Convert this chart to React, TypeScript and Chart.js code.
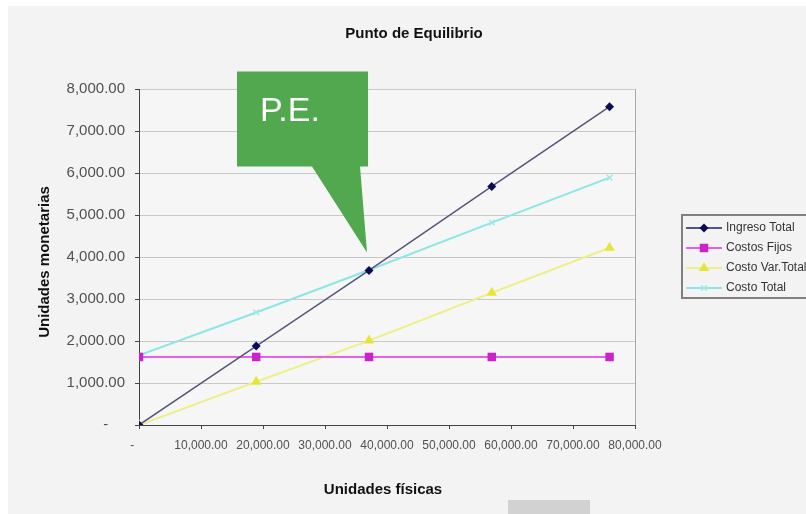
import React, { useEffect, useRef } from "react";
import { Chart, registerables } from "chart.js";

Chart.register(...registerables);

const chartTitle = "Punto de Equilibrio";
const xTitle = "Unidades físicas";
const yTitle = "Unidades monetarias";
const calloutText = "P.E.";

const units = [0, 18900, 37100, 56900, 75900];
const ingresoTotal = [0, 1880, 3680, 5680, 7580];
const costosFijos = [1620, 1620, 1620, 1620, 1620];
const costoVarTotal = [0, 1030, 2010, 3150, 4220];
const costoTotal = [1660, 2680, 3690, 4820, 5890];

const seriesNames = ["Ingreso Total", "Costos Fijos", "Costo Var.Total", "Costo Total"];
const peUnits = 37100;
const peValue = 3680;

const FONT = "'Liberation Sans', Arial, sans-serif";

const fmt = (v: number) =>
  v.toLocaleString("en-US", { minimumFractionDigits: 2, maximumFractionDigits: 2 });

const lineColors = ["#55557f", "#e066e0", "#efef8a", "#8ce6e6"];
const pointColors = ["#0c0c55", "#cc22cc", "#e6e63a", "#9fe9e9"];
const pointStyles = ["rectRot", "rect", "triangle", "crossRot"];
const pointRadii = [4.5, 6, 6, 4];

function drawMarker(ctx: CanvasRenderingContext2D, style: string, x: number, y: number, r: number, color: string) {
  ctx.save();
  ctx.fillStyle = color;
  ctx.strokeStyle = color;
  ctx.lineWidth = 1.5;
  ctx.beginPath();
  if (style === "rectRot") {
    ctx.moveTo(x, y - r);
    ctx.lineTo(x + r, y);
    ctx.lineTo(x, y + r);
    ctx.lineTo(x - r, y);
    ctx.closePath();
    ctx.fill();
  } else if (style === "rect") {
    const s = r * Math.SQRT1_2;
    ctx.rect(x - s, y - s, 2 * s, 2 * s);
    ctx.fill();
  } else if (style === "triangle") {
    ctx.moveTo(x, y - r);
    ctx.lineTo(x + r * 0.866, y + r * 0.5);
    ctx.lineTo(x - r * 0.866, y + r * 0.5);
    ctx.closePath();
    ctx.fill();
  } else {
    const s = r * Math.SQRT1_2;
    ctx.moveTo(x - s, y - s);
    ctx.lineTo(x + s, y + s);
    ctx.moveTo(x + s, y - s);
    ctx.lineTo(x - s, y + s);
    ctx.stroke();
  }
  ctx.restore();
}

const decorPlugin = {
  id: "decor",
  beforeDraw(chart: any) {
    const { ctx, chartArea } = chart;
    ctx.save();
    ctx.fillStyle = "#ffffff";
    ctx.fillRect(0, 0, chart.width, chart.height);
    ctx.fillStyle = "#f3f3f3";
    ctx.fillRect(8, 6, chart.width - 8, chart.height - 6);
    ctx.fillStyle = "#f6f6f6";
    ctx.fillRect(chartArea.left, chartArea.top, chartArea.right - chartArea.left, chartArea.bottom - chartArea.top);
    ctx.restore();
  },
  afterDraw(chart: any) {
    const { ctx, chartArea, scales } = chart;
    ctx.save();
    // right border of plot
    ctx.strokeStyle = "#a8a8a8";
    ctx.lineWidth = 1;
    ctx.beginPath();
    ctx.moveTo(chartArea.right + 0.5, chartArea.top);
    ctx.lineTo(chartArea.right + 0.5, chartArea.bottom);
    ctx.stroke();

    // titles
    ctx.fillStyle = "#111";
    ctx.font = `bold 15px ${FONT}`;
    ctx.textAlign = "center";
    ctx.textBaseline = "middle";
    ctx.fillText(chartTitle, 414, 34);
    ctx.fillText(xTitle, 383, 490);
    ctx.save();
    ctx.translate(45, 262);
    ctx.rotate(-Math.PI / 2);
    ctx.fillText(yTitle, 0, 0);
    ctx.restore();

    // legend
    ctx.strokeStyle = "#808080";
    ctx.lineWidth = 2;
    ctx.strokeRect(682, 215, 140, 83);
    const rows = [228, 248, 268, 288];
    ctx.font = `12px ${FONT}`;
    ctx.textAlign = "left";
    seriesNames.forEach((name, i) => {
      const y = rows[i];
      ctx.strokeStyle = lineColors[i];
      ctx.lineWidth = 2;
      ctx.beginPath();
      ctx.moveTo(686, y);
      ctx.lineTo(722, y);
      ctx.stroke();
      drawMarker(ctx, pointStyles[i], 704, y, pointRadii[i], pointColors[i]);
      ctx.fillStyle = "#333";
      ctx.fillText(name, 726, y);
    });

    // P.E. callout
    const px = scales.x.getPixelForValue(peUnits);
    const py = scales.y.getPixelForValue(peValue);
    const left = px - 132;
    const right = px - 1;
    const top = py - 199;
    const bottom = py - 104;
    ctx.fillStyle = "#52a84e";
    ctx.beginPath();
    ctx.moveTo(left, top);
    ctx.lineTo(right, top);
    ctx.lineTo(right, bottom);
    ctx.lineTo(px - 9, bottom);
    ctx.lineTo(px - 2, py - 18);
    ctx.lineTo(px - 57, bottom);
    ctx.lineTo(left, bottom);
    ctx.closePath();
    ctx.fill();
    ctx.fillStyle = "#ffffff";
    ctx.font = `34px ${FONT}`;
    ctx.textAlign = "left";
    ctx.textBaseline = "alphabetic";
    ctx.fillText(calloutText, left + 23, top + 50);

    // gray patch at bottom
    ctx.fillStyle = "#d2d2d2";
    ctx.fillRect(508, 500, 82, 14);
    ctx.restore();
  },
};

export default function App() {
  const ref = useRef<HTMLCanvasElement>(null);
  useEffect(() => {
    if (!ref.current) return;
    const series = [ingresoTotal, costosFijos, costoVarTotal, costoTotal];
    const chart = new Chart(ref.current, {
      type: "scatter",
      data: {
        datasets: series.map((vals, i) => ({
          label: seriesNames[i],
          data: units.map((u, j) => ({ x: u, y: vals[j] })),
          showLine: true,
          borderColor: lineColors[i],
          borderWidth: i === 0 ? 1.5 : 2,
          pointStyle: pointStyles[i] as any,
          pointRadius: pointRadii[i],
          pointBackgroundColor: pointColors[i],
          pointBorderColor: pointColors[i],
          pointBorderWidth: i === 3 ? 1.5 : 0,
        })),
      },
      options: {
        animation: false,
        responsive: false,
        devicePixelRatio: 1,
        layout: { padding: { left: 0, top: 89, right: 171, bottom: 0 } },
        plugins: {
          legend: { display: false },
          title: { display: false },
          tooltip: { enabled: false },
        },
        scales: {
          x: {
            type: "linear",
            min: 0,
            max: 80000,
            afterFit: (s: any) => {
              s.height = 89;
            },
            ticks: {
              stepSize: 10000,
              padding: 9,
              color: "#505050",
              font: { family: FONT, size: 12 },
              maxRotation: 0,
              autoSkip: false,
              callback: (v: any) => (Number(v) === 0 ? "-    " : fmt(Number(v))),
            },
            grid: { drawOnChartArea: false, drawTicks: true, tickLength: 4, tickColor: "#444" },
            border: { display: true, color: "#444", width: 1 },
          },
          y: {
            min: 0,
            max: 8000,
            afterFit: (s: any) => {
              s.width = 139;
            },
            ticks: {
              stepSize: 1000,
              padding: 10,
              color: "#505050",
              font: { family: FONT, size: 15 },
              callback: (v: any) => (Number(v) === 0 ? "-    " : fmt(Number(v))),
            },
            grid: { color: "#c9c9c9", lineWidth: 1, drawTicks: true, tickLength: 4, tickColor: "#444" },
            border: { display: true, color: "#444", width: 1 },
          },
        },
      },
      plugins: [decorPlugin],
    });
    return () => chart.destroy();
  }, []);
  return (
    <div style={{ position: "absolute", left: 0, top: 0, width: 806, height: 514 }}>
      <canvas ref={ref} width={806} height={514} />
    </div>
  );
}
